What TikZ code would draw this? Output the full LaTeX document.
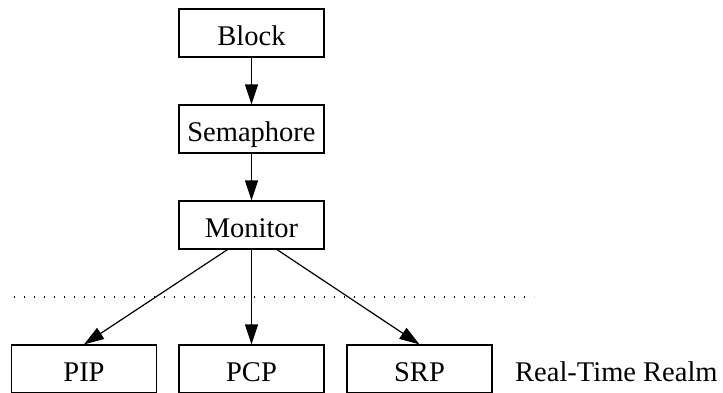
\documentclass[tikz,border=0pt]{standalone}
\usepackage{fontspec}
\setmainfont{Liberation Serif}
\usetikzlibrary{arrows.meta}
\begin{document}
\begin{tikzpicture}[x=1pt,y=1pt,
  box/.style={draw,line width=1.2pt,minimum width=145pt,minimum height=48pt,inner sep=0pt,
    text height=25pt,text depth=0pt,font=\fontsize{28.5}{34}\selectfont},
  lbl/.style={inner sep=0pt,text height=25pt,text depth=0pt,font=\fontsize{28.5}{34}\selectfont},
  arr/.style={line width=1.2pt,-{Triangle[length=20pt,width=13pt]}}]
\useasboundingbox (0,0) rectangle (723,392);
\node[box] (block) at (251.5,359) {Block};
\node[box] (sem) at (251.5,263) {Semaphore};
\node[box] (mon) at (251.5,167) {Monitor};
\node[box] (pip) at (84,23) {PIP};
\node[box] (pcp) at (251.5,23) {PCP};
\node[box] (srp) at (419.5,23) {SRP};
\node[lbl,anchor=west] (realm) at (515,23) {Real-Time Realm};
\coordinate (d1) at (14,95);
\coordinate (d2) at (534,95);
\draw[line width=1.2pt,dash pattern=on 1.3pt off 8.7pt] (d1) -- (d2);
\draw[arr] (block) -- (sem);
\draw[arr] (sem) -- (mon);
\draw[arr] (mon) -- (pcp);
\draw[arr] ([xshift=-24pt]mon.south) -- (pip.north);
\draw[arr] ([xshift=25.5pt]mon.south) -- (srp.north);
\end{tikzpicture}
\end{document}
